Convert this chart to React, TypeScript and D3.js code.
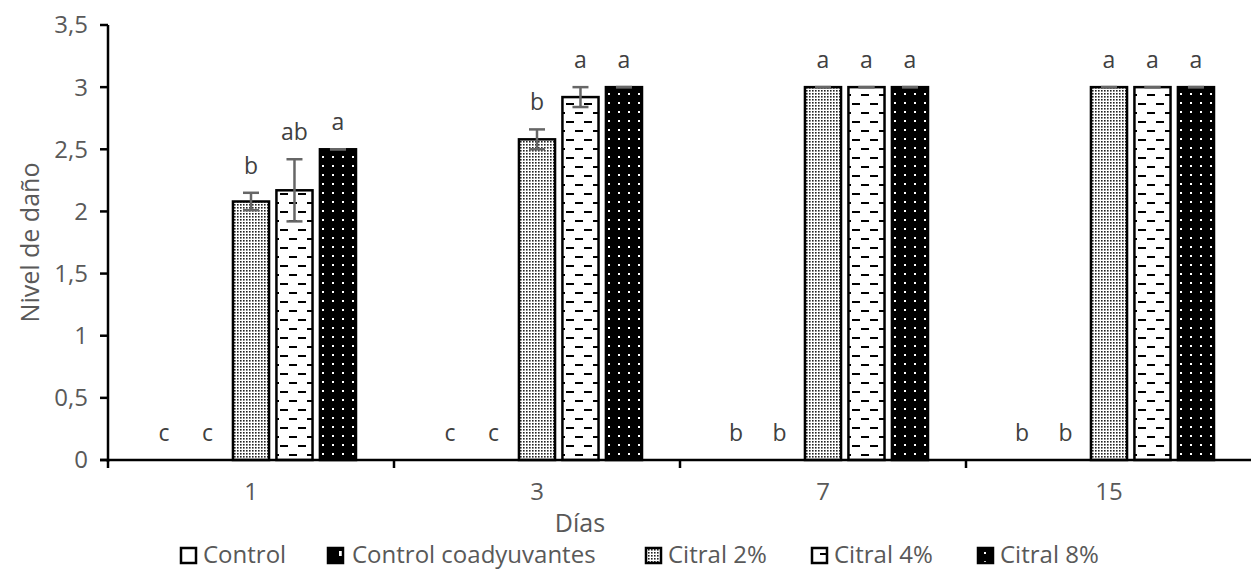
import React from "react";
import * as d3 from "d3";

const days = ["1", "3", "7", "15"];
const series = ["Control", "Control coadyuvantes", "Citral 2%", "Citral 4%", "Citral 8%"];
const control = [0, 0, 0, 0];
const controlCoad = [0, 0, 0, 0];
const citral2 = [2.08, 2.58, 3, 3];
const citral4 = [2.17, 2.92, 3, 3];
const citral8 = [2.5, 3, 3, 3];
const err2 = [0.07, 0.08, 0, 0];
const err4 = [0.25, 0.08, 0, 0];
const err8 = [0, 0, 0, 0];
const errZero = [0, 0, 0, 0];
const letters = [
  ["c", "c", "b", "ab", "a"],
  ["c", "c", "b", "a", "a"],
  ["b", "b", "a", "a", "a"],
  ["b", "b", "a", "a", "a"],
];
const yTicks = [0, 0.5, 1, 1.5, 2, 2.5, 3, 3.5];

const values = [control, controlCoad, citral2, citral4, citral8];
const errors = [errZero, errZero, err2, err4, err8];
const fills = ["#fff", "url(#pCoad)", "url(#p2)", "url(#p4)", "url(#p8)"];

const W = 1251, H = 570;
const m = { left: 108 };
const FONT = "'Open Sans', 'Liberation Sans', sans-serif";
const TXT = "#595959";

export default function App() {
  const x0 = d3.scaleBand<string>().domain(days).range([m.left, 1252]).padding(0);
  const x1 = d3.scaleBand<string>().domain(series).range([38, x0.bandwidth() - 38]).paddingInner(0.17).paddingOuter(0);
  const y = d3.scaleLinear().domain([0, 3.5]).range([460, 25]);
  const fmt = (v: number) => String(v).replace(".", ",");

  const legendItems = [
    { name: series[0], mx: 181, tx: 203 },
    { name: series[1], mx: 328, tx: 352 },
    { name: series[2], mx: 646, tx: 668 },
    { name: series[3], mx: 812, tx: 834 },
    { name: series[4], mx: 978, tx: 1000 },
  ];

  return (
    <svg width={W} height={H} style={{ position: "absolute", left: 0, top: 0, background: "#fff" }}>
      <defs>
        <pattern id="p2" width="3" height="3" patternUnits="userSpaceOnUse">
          <rect width="3" height="3" fill="#fff" />
          <rect width="1.6" height="1.6" fill="#222" />
        </pattern>
        <pattern id="p4" width="18" height="18" patternUnits="userSpaceOnUse">
          <rect width="18" height="18" fill="#fff" />
          <rect x="1" y="4" width="8" height="2" fill="#000" />
          <rect x="10" y="13" width="8" height="2" fill="#000" />
        </pattern>
        <pattern id="p8" width="10" height="9" patternUnits="userSpaceOnUse">
          <rect width="10" height="9" fill="#000" />
          <rect x="4" y="3" width="2" height="2" fill="#fff" />
        </pattern>
        <pattern id="pCoad" width="16" height="16" patternUnits="userSpaceOnUse">
          <rect width="16" height="16" fill="#000" />
          <rect x="3" y="7" width="5" height="5" fill="#fff" />
        </pattern>
      </defs>

      {/* bars */}
      {days.map((d, di) => (
        <g key={d} transform={`translate(${x0(d)},0)`}>
          {series.map((s, si) => {
            const v = values[si][di];
            const bx = x1(s)!;
            const bw = x1.bandwidth();
            const e = errors[si][di];
            const cx = bx + bw / 2;
            return (
              <g key={s}>
                {v > 0 && (
                  <rect x={bx} y={y(v)} width={bw} height={y(0) - y(v)} fill={fills[si]} stroke="#000" strokeWidth={2.5} />
                )}
                {v > 0 && (
                  <g stroke="#666" strokeWidth={2.5}>
                    <line x1={cx} x2={cx} y1={y(v + e)} y2={y(v - e)} />
                    <line x1={cx - 8} x2={cx + 8} y1={y(v + e)} y2={y(v + e)} />
                    <line x1={cx - 8} x2={cx + 8} y1={y(v - e)} y2={y(v - e)} />
                  </g>
                )}
                <text x={cx} y={y(v + e) - 27} dy="0.35em" textAnchor="middle" fontFamily={FONT} fontSize={23} fill="#404040">
                  {letters[di][si]}
                </text>
              </g>
            );
          })}
        </g>
      ))}

      {/* y axis */}
      <line x1={m.left} x2={m.left} y1={y(3.5)} y2={y(0) + 2} stroke="#000" strokeWidth={2.5} />
      {yTicks.map((t) => (
        <g key={t}>
          <line x1={m.left - 8} x2={m.left} y1={y(t)} y2={y(t)} stroke="#000" strokeWidth={2.5} />
          <text x={m.left - 20} y={y(t)} dy="0.35em" textAnchor="end" fontFamily={FONT} fontSize={24} fill={TXT}>
            {fmt(t)}
          </text>
        </g>
      ))}

      {/* x axis */}
      <line x1={m.left - 8} x2={1251} y1={y(0)} y2={y(0)} stroke="#000" strokeWidth={2.5} />
      {days.map((d) => (
        <g key={d}>
          <line x1={x0(d)!} x2={x0(d)!} y1={y(0)} y2={y(0) + 8} stroke="#000" strokeWidth={2.5} />
          <text x={x0(d)! + x0.bandwidth() / 2} y={492} dy="0.35em" textAnchor="middle" fontFamily={FONT} fontSize={24} fill={TXT}>
            {d}
          </text>
        </g>
      ))}

      {/* axis titles */}
      <text x={580} y={523} dy="0.35em" textAnchor="middle" fontFamily={FONT} fontSize={25} fill={TXT}>Días</text>
      <text transform={`translate(30,${y(1.75)}) rotate(-90)`} dy="0.35em" textAnchor="middle" fontFamily={FONT} fontSize={25} fill={TXT}>
        Nivel de daño
      </text>

      {/* legend */}
      {legendItems.map((it, i) => (
        <g key={it.name}>
          <rect x={it.mx} y={548} width={15} height={15} fill={fills[i]} stroke="#000" strokeWidth={2.5} />
          <text x={it.tx} y={555} dy="0.35em" fontFamily={FONT} fontSize={24} fill={TXT}>{it.name}</text>
        </g>
      ))}
    </svg>
  );
}
